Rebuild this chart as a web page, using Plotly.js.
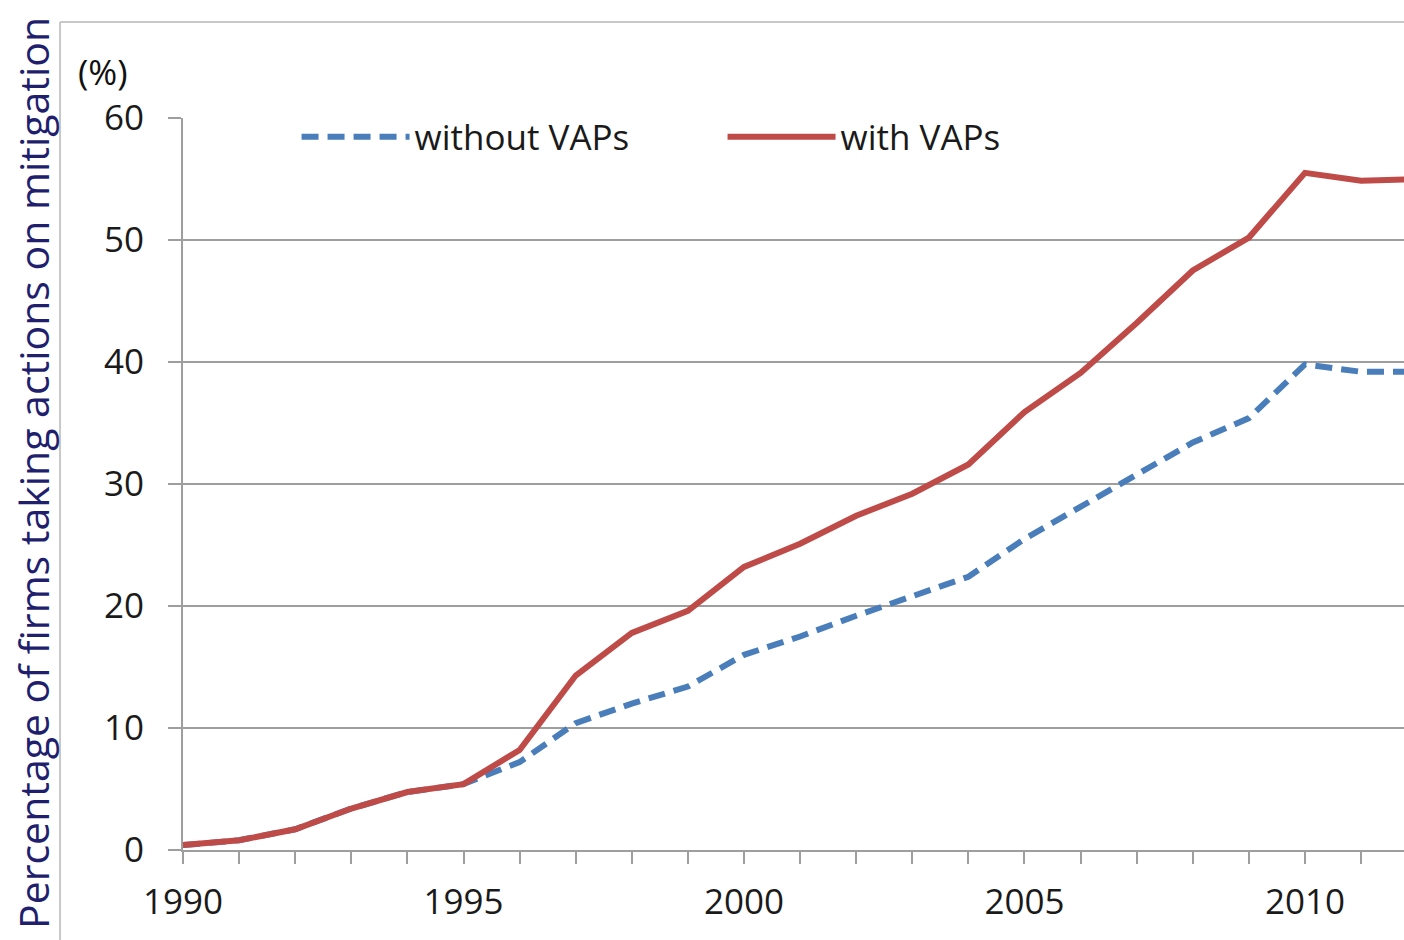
<!DOCTYPE html>
<html>
<head>
<meta charset="utf-8">
<script src="https://cdn.plot.ly/plotly-3.0.1.min.js"></script>
<style>html,body{margin:0;padding:0;background:#fff;}#chart{width:1404px;height:940px;}</style>
</head>
<body>
<div id="chart"></div>
<script>
var years = [1990,1991,1992,1993,1994,1995,1996,1997,1998,1999,2000,2001,2002,2003,2004,2005,2006,2007,2008,2009,2010,2011,2012];
var withoutVAPs = [0.4,0.8,1.7,3.4,4.75,5.4,7.2,10.4,12.0,13.4,16.0,17.5,19.2,20.8,22.4,25.5,28.1,30.7,33.4,35.4,39.8,39.2,39.2];
var withVAPs = [0.4,0.8,1.7,3.4,4.75,5.4,8.2,14.3,17.8,19.6,23.2,25.1,27.4,29.2,31.6,35.9,39.1,43.2,47.5,50.2,55.5,54.85,55.0];
var seriesNames = ['without VAPs','with VAPs'];
var labelYears = [1990,1995,2000,2005,2010];
var yTitle = 'Percentage of firms taking actions on mitigation';
var unitLabel = '(%)';

var tickText = years.map(function(y){ return labelYears.indexOf(y) >= 0 ? String(y) : ''; });

var traces = [
  {x: years, y: withoutVAPs, name: seriesNames[0], type: 'scatter', mode: 'lines',
   line: {color: '#4A7EBB', width: 6, dash: '17px,9px'}},
  {x: years, y: withVAPs, name: seriesNames[1], type: 'scatter', mode: 'lines',
   line: {color: '#BE4B48', width: 6}}
];

var gridGray = '#9E9E9E';
var layout = {
  width: 1404, height: 940,
  margin: {l: 183, r: 0, t: 118, b: 90, pad: 0},
  paper_bgcolor: '#fff', plot_bgcolor: '#fff',
  font: {family: 'Open Sans, sans-serif', color: '#1a1a1a'},
  showlegend: true,
  legend: {orientation: 'h', x: 0.093, xanchor: 'left', y: 0.974, yanchor: 'middle',
    font: {size: 35, color: '#1a1a1a'}, bgcolor: 'rgba(0,0,0,0)', itemwidth: 108,
    entrywidth: 303, tracegroupgap: 0},
  xaxis: {range: [1990, 2011.765], tickvals: years, ticktext: tickText,
    ticks: 'outside', ticklen: 12, tickwidth: 2, tickcolor: gridGray,
    showline: true, linecolor: gridGray, linewidth: 2, showgrid: false, zeroline: false,
    tickfont: {size: 35, color: '#1a1a1a'}, ticklabelstandoff: 8},
  yaxis: {range: [0, 60], dtick: 10, tick0: 0,
    ticks: 'outside', ticklen: 13, tickwidth: 2, tickcolor: gridGray,
    showline: true, linecolor: gridGray, linewidth: 2,
    showgrid: true, gridcolor: gridGray, gridwidth: 2, zeroline: false,
    tickfont: {size: 35, color: '#1a1a1a'}, ticklabelstandoff: 17},
  shapes: [
    {type: 'line', xref: 'paper', yref: 'paper', x0: -0.1007, x1: -0.1007, y0: 1.1311, y1: -0.15,
     line: {color: '#C8C8C8', width: 2}},
    {type: 'line', xref: 'paper', yref: 'paper', x0: -0.1007, x1: 1.01, y0: 1.1311, y1: 1.1311,
     line: {color: '#C8C8C8', width: 2}}
  ],
  annotations: [
    {text: unitLabel, xref: 'paper', yref: 'paper', x: -0.0655, y: 1.064, xanchor: 'center', yanchor: 'middle',
     showarrow: false, font: {size: 35, color: '#111'}},
    {text: yTitle, xref: 'paper', yref: 'paper', x: -0.1229, y: 0.515, xanchor: 'center', yanchor: 'middle',
     textangle: -90, showarrow: false, font: {size: 41, color: '#1F1F6E'}}
  ]
};

Plotly.newPlot('chart', traces, layout, {displayModeBar: false, staticPlot: true});
</script>
</body>
</html>
